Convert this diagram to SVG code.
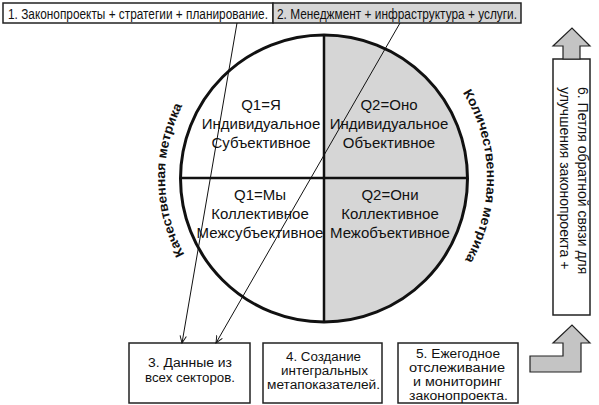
<svg xmlns="http://www.w3.org/2000/svg" width="599" height="405" viewBox="0 0 599 405">
<defs>
<style>
.box{fill:#fff;stroke:#222;stroke-width:1.5}
.gbox{fill:#d6d6d6;stroke:#222;stroke-width:1.5}
.t{font-family:"Liberation Sans","Noto Sans",sans-serif;font-size:15px;fill:#111}
.v{font-family:"Liberation Sans","Noto Sans",sans-serif;font-size:14px;fill:#111}
.c{font-family:"Liberation Sans","Noto Sans",sans-serif;font-size:15px;fill:#111;text-anchor:middle}
.m{font-family:"Liberation Sans","Noto Sans",sans-serif;font-size:12px;fill:#111}
.arc{font-family:"Liberation Sans","Noto Sans",sans-serif;font-size:13px;font-weight:bold;fill:#111}
.conn{stroke:#111;stroke-width:1;fill:none}
.big{fill:#c4c4c4;stroke:#222;stroke-width:1.2}
</style>
<marker id="ah" viewBox="0 0 10 10" refX="9" refY="5" markerWidth="8" markerHeight="8" orient="auto" markerUnits="userSpaceOnUse">
<path d="M0,1 L9,5 L0,9" fill="none" stroke="#111" stroke-width="1.2"/>
</marker>
<path id="arcL" d="M 324 337 A 159 159 0 0 1 324 19"/>
<path id="arcR" d="M 324 15 A 163 163 0 0 1 324 341"/>
</defs>

<g id="circle">
<path d="M324,35 A143.5,143.5 0 0 1 324,322 Z" fill="#d6d6d6"/>
<circle cx="324" cy="178.5" r="143.5" fill="none" stroke="#111" stroke-width="3"/>
<line x1="324" y1="35" x2="324" y2="322" stroke="#111" stroke-width="2.5"/>
<line x1="180.5" y1="178" x2="467.5" y2="178" stroke="#111" stroke-width="2.5"/>
</g>

<g id="q1-top">
<text class="c" x="261" y="110">Q1=Я</text>
<text class="c" x="261" y="129">Индивидуальное</text>
<text class="c" x="261" y="148">Субъективное</text>
</g>
<g id="q2-top">
<text class="c" x="389" y="110">Q2=Оно</text>
<text class="c" x="389" y="129">Индивидуальное</text>
<text class="c" x="389" y="148">Объективное</text>
</g>
<g id="q1-bottom">
<text class="c" x="260" y="200">Q1=Мы</text>
<text class="c" x="260" y="219">Коллективное</text>
<text class="c" x="260" y="238">Межсубъективное</text>
</g>
<g id="q2-bottom">
<text class="c" x="390" y="200">Q2=Они</text>
<text class="c" x="390" y="219">Коллективное</text>
<text class="c" x="390" y="238">Межобъективное</text>
</g>

<g id="label-left">
<text class="arc"><textPath href="#arcL" startOffset="170" textLength="155" lengthAdjust="spacingAndGlyphs">Качественная метрика</textPath></text>
</g>
<g id="label-right">
<text class="arc"><textPath href="#arcR" startOffset="166" textLength="176" lengthAdjust="spacingAndGlyphs">Количественная метрика</textPath></text>
</g>

<g id="box1">
<rect class="box" x="3" y="3" width="270" height="20"/>
<text class="t" transform="translate(8,18.5) scale(0.8,1)" x="0" y="0" textLength="325" lengthAdjust="spacingAndGlyphs">1. Законопроекты + стратегии + планирование.</text>
</g>
<g id="box2">
<rect class="gbox" x="273" y="3" width="248" height="20"/>
<text class="t" transform="translate(277,18.5) scale(0.8,1)" x="0" y="0" textLength="300" lengthAdjust="spacingAndGlyphs">2. Менеджмент + инфраструктура + услуги.</text>
</g>

<g id="box3">
<rect class="box" x="129" y="343" width="121" height="60"/>
<text class="m" x="148" y="367" textLength="84" lengthAdjust="spacingAndGlyphs">3. Данные из</text>
<text class="m" x="145" y="382" textLength="90" lengthAdjust="spacingAndGlyphs">всех секторов.</text>
</g>
<g id="box4">
<rect class="box" x="263" y="343" width="119" height="60"/>
<text class="m" x="286" y="361" textLength="75" lengthAdjust="spacingAndGlyphs">4. Создание</text>
<text class="m" x="281" y="375" textLength="87" lengthAdjust="spacingAndGlyphs">интегральных</text>
<text class="m" x="267" y="389" textLength="113" lengthAdjust="spacingAndGlyphs">метапоказателей.</text>
</g>
<g id="box5">
<rect class="box" x="398" y="343" width="120" height="60"/>
<text class="m" x="416" y="358" textLength="84" lengthAdjust="spacingAndGlyphs">5. Ежегодное</text>
<text class="m" x="409" y="372" textLength="96" lengthAdjust="spacingAndGlyphs">отслеживание</text>
<text class="m" x="413" y="386" textLength="89" lengthAdjust="spacingAndGlyphs">и мониторинг</text>
<text class="m" x="409" y="400" textLength="99" lengthAdjust="spacingAndGlyphs">законопроекта.</text>
</g>
<g id="box6">
<rect class="box" x="553" y="59" width="37" height="256"/>
<g transform="translate(578,87) rotate(90)">
<text class="v" x="0" y="0">6. Петля обратной связи для</text>
<text class="v" x="0" y="18">улучшения законопроекта +</text>
</g>
</g>

<g id="arrow-up">
<polygon class="big" points="563,59 563,46 553,46 572,28 590,46 580,46 580,59"/>
</g>
<g id="arrow-bend">
<polygon class="big" points="530,356 563,356 563,343 553,343 572,325 590,343 581,343 581,372 530,372"/>
</g>

<g id="connectors">
<line class="conn" x1="237" y1="23" x2="182" y2="343" marker-end="url(#ah)"/>
<line class="conn" x1="400" y1="23" x2="216" y2="343" marker-end="url(#ah)"/>
</g>
</svg>
